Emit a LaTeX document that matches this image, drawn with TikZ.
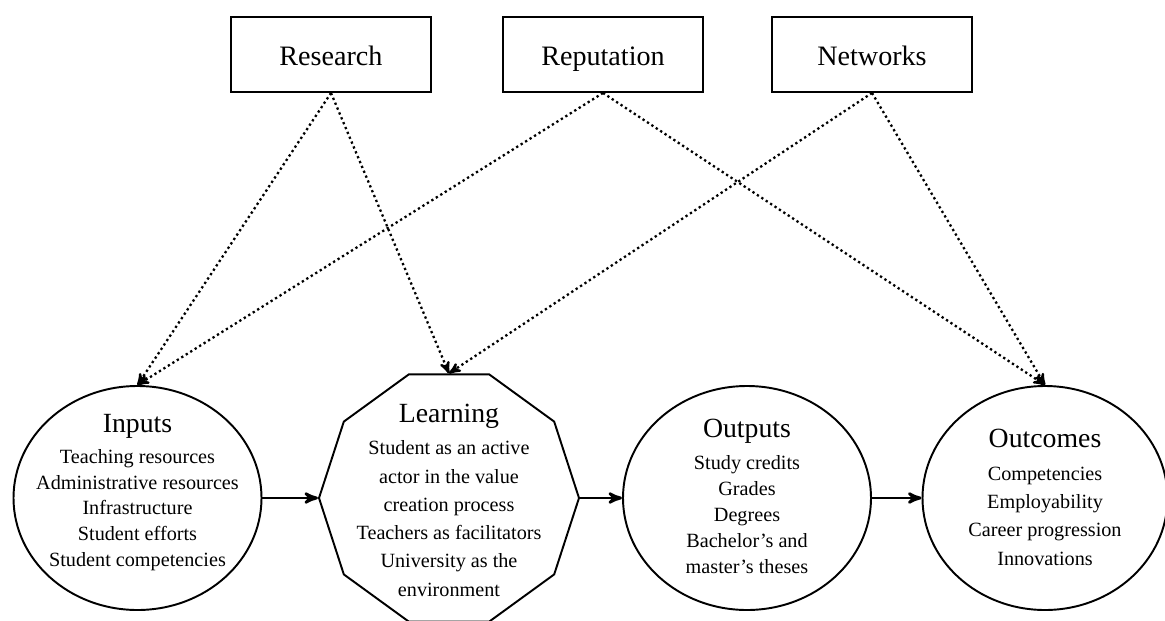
\documentclass[tikz,border=0pt]{standalone}
\usepackage{fontspec}
\setmainfont{Liberation Serif}
\usetikzlibrary{arrows, shapes.geometric, positioning}
\newcommand{\stagetitle}[1]{{\fontsize{15.8}{19}\selectfont #1}}

\begin{document}
\begin{tikzpicture}[>=stealth', line width=1.1pt,
  factor/.style={draw, rectangle, minimum width=4cm, minimum height=1.5cm, text height=12pt, text depth=0pt, font=\fontsize{16}{19}\selectfont},
  stage/.style={draw, ellipse, minimum width=4.96cm, minimum height=4.48cm, inner sep=0pt},
  learnshape/.style={draw, regular polygon, regular polygon sides=10, minimum size=5.2cm, inner sep=0pt},
  content/.style={align=center, font=\fontsize{11.5}{14.7}\selectfont},
  influence/.style={->, line width=1.3pt, dash pattern=on 1.3pt off 1.7pt},
  flow/.style={->, line width=1.6pt}]
\useasboundingbox (0,0) rectangle (23.3,12.4);
\node[stage] (inputs) at (2.75,2.44) {};
\node[learnshape, right of=inputs, node distance=6.23cm] (learning) {};
\node[stage, right of=learning, node distance=5.96cm] (outputs) {};
\node[stage, right of=outputs, node distance=5.96cm, minimum width=4.9cm] (outcomes) {};
\node[factor] (research) at (6.62,11.31) {Research};
\node[factor, right of=research, node distance=5.44cm] (reputation) {Reputation};
\node[factor, right of=reputation, node distance=5.38cm] (networks) {Networks};
\node[content, yshift=0.11cm] (inputstext) at (inputs) {\stagetitle{Inputs}\\[3pt] Teaching resources\\ Administrative resources\\ Infrastructure\\ Student efforts\\ Student competencies};
\node[content, font=\fontsize{11.5}{16.1}\selectfont, yshift=-0.05cm] (learningtext) at (learning) {\stagetitle{Learning}\\[2pt] Student as an active\\ actor in the value\\ creation process\\ Teachers as facilitators\\ University as the\\ environment};
\node[content, yshift=0.03cm] (outputstext) at (outputs) {\stagetitle{Outputs}\\[3.5pt] Study credits\\ Grades\\ Degrees\\ Bachelor's and\\ master's theses};
\node[content, font=\fontsize{11.5}{16.1}\selectfont, yshift=0.02cm] (outcomestext) at (outcomes) {\stagetitle{Outcomes}\\[2.7pt] Competencies\\ Employability\\ Career progression\\ Innovations};
\draw [flow] (inputs) -- (learning);
\draw [flow] (learning) -- (outputs);
\draw [flow] (outputs) -- (outcomes);
\path [influence] (research.south) edge (inputs.north) edge (learning.north);
\path [influence] (reputation.south) edge (inputs.north) edge (outcomes.north);
\path [influence] (networks.south) edge (learning.north) edge (outcomes.north);
\end{tikzpicture}
\end{document}
